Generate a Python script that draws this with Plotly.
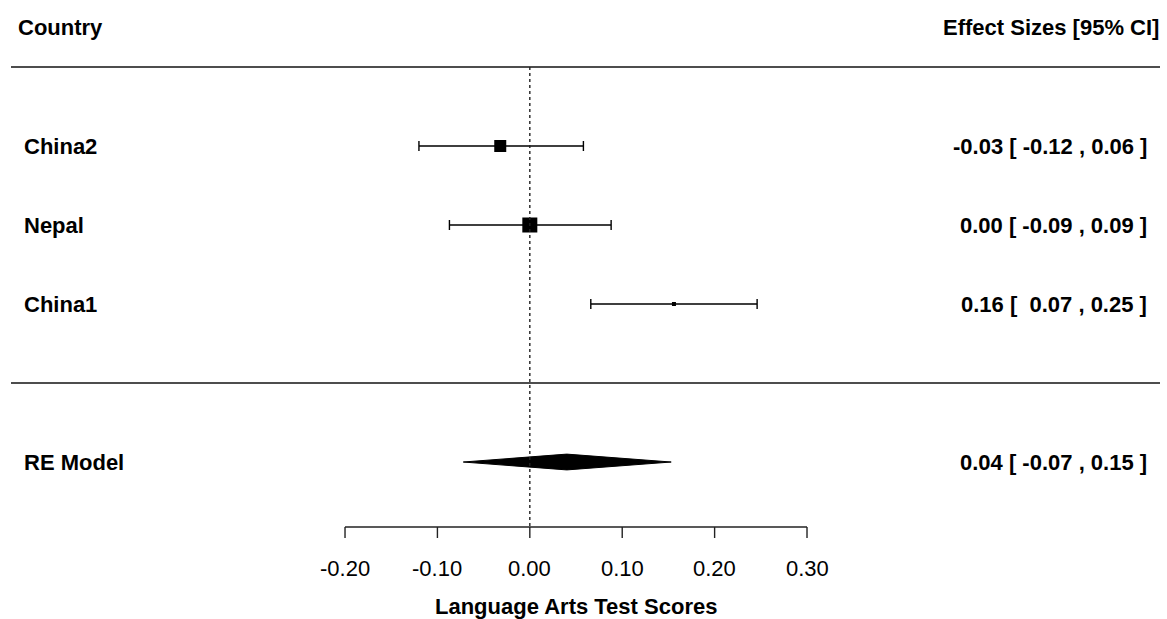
import plotly.graph_objects as go

# ---- data ----
studies = ["China2", "Nepal", "China1"]
rows = [3, 2, 1]
est = [-0.032, 0.000, 0.156]
ci_lb = [-0.120, -0.087, 0.066]
ci_ub = [0.058, 0.088, 0.246]
marker_px = [12, 15, 4]
re_label = "RE Model"
re_est = 0.040
re_lb = -0.072
re_ub = 0.153
tick_vals = [-0.20, -0.10, 0.00, 0.10, 0.20, 0.30]
tick_text = ["-0.20", "-0.10", "0.00", "0.10", "0.20", "0.30"]
xlabel = "Language Arts Test Scores"
header_left = "Country"
header_right = "Effect Sizes [95% CI]"

W, H = 1167, 619
XMIN, XMAX = -0.5734, 0.6896
YMIN, YMAX = -2.987, 4.848
FONT = "Liberation Sans, Arial, sans-serif"
NB = "\u00a0"


def fmt(e, l, u):
    s = f"{e:.2f} [ {l:5.2f} , {u:.2f} ]"
    return s.replace(" ", NB)


def px2x(p):
    return XMIN + (XMAX - XMIN) * p / W


fig = go.Figure()

# study squares with CIs
fig.add_trace(go.Scatter(
    x=est, y=rows, mode="markers",
    marker=dict(symbol="square", size=marker_px, color="black", opacity=1,
                line=dict(width=0)),
    error_x=dict(type="data", symmetric=False,
                 array=[u - e for u, e in zip(ci_ub, est)],
                 arrayminus=[e - l for e, l in zip(est, ci_lb)],
                 color="black", thickness=1.4, width=5),
    showlegend=False, hoverinfo="skip"))

# summary diamond
re_row = -1
h = 0.1
fig.add_trace(go.Scatter(
    x=[re_lb, re_est, re_ub, re_est, re_lb],
    y=[re_row, re_row + h, re_row, re_row - h, re_row],
    mode="lines", fill="toself", fillcolor="black",
    line=dict(color="black", width=1), showlegend=False, hoverinfo="skip"))

shapes = []
# horizontal separators
for yy in [4, 0]:
    shapes.append(dict(type="line", xref="x", yref="y", x0=px2x(11), x1=px2x(1160),
                       y0=yy, y1=yy, line=dict(color="#4d4d4d", width=2)))
axis_y = -1.823
tick_end = -1.962
# reference line at 0
shapes.append(dict(type="line", xref="x", yref="y", x0=0, x1=0, y0=4, y1=axis_y,
                   line=dict(color="#222222", width=1.4, dash="dot")))
# x axis
shapes.append(dict(type="line", xref="x", yref="y", x0=tick_vals[0], x1=tick_vals[-1],
                   y0=axis_y, y1=axis_y, line=dict(color="#222222", width=1.4)))
for tv in tick_vals:
    shapes.append(dict(type="line", xref="x", yref="y", x0=tv, x1=tv,
                       y0=axis_y, y1=tick_end, line=dict(color="#222222", width=1.4)))

ann = []
bold = dict(family=FONT, size=22, color="black", weight="bold")
reg = dict(family=FONT, size=22, color="black")
ann.append(dict(x=px2x(16), y=4.5, text=header_left, xanchor="left", yanchor="middle",
                showarrow=False, font=bold))
ann.append(dict(x=px2x(1161), y=4.5, text=header_right, xanchor="right", yanchor="middle",
                showarrow=False, font=bold))
for s, r, e, l, u in zip(studies, rows, est, ci_lb, ci_ub):
    ann.append(dict(x=px2x(22), y=r, text=s, xanchor="left", yanchor="middle",
                    showarrow=False, font=bold))
    ann.append(dict(x=px2x(1149), y=r, text=fmt(e, l, u), xanchor="right",
                    yanchor="middle", showarrow=False, font=bold))
ann.append(dict(x=px2x(22), y=re_row, text=re_label, xanchor="left", yanchor="middle",
                showarrow=False, font=bold))
ann.append(dict(x=px2x(1149), y=re_row, text=fmt(re_est, re_lb, re_ub), xanchor="right",
                yanchor="middle", showarrow=False, font=bold))
for tv, tt in zip(tick_vals, tick_text):
    ann.append(dict(x=tv, y=-2.354, text=tt, xanchor="center", yanchor="middle",
                    showarrow=False, font=reg))
ann.append(dict(x=(tick_vals[0] + tick_vals[-1]) / 2, y=-2.835, text=xlabel,
                xanchor="center", yanchor="middle", showarrow=False, font=bold))

fig.update_layout(
    width=W, height=H, margin=dict(l=0, r=0, t=0, b=0),
    plot_bgcolor="white", paper_bgcolor="white",
    xaxis=dict(range=[XMIN, XMAX], visible=False, fixedrange=True),
    yaxis=dict(range=[YMIN, YMAX], visible=False, fixedrange=True),
    shapes=shapes, annotations=ann,
)

fig.write_html("out.html", config={"displayModeBar": False},
               post_script="document.body.style.margin='0';document.body.style.overflow='hidden';")
